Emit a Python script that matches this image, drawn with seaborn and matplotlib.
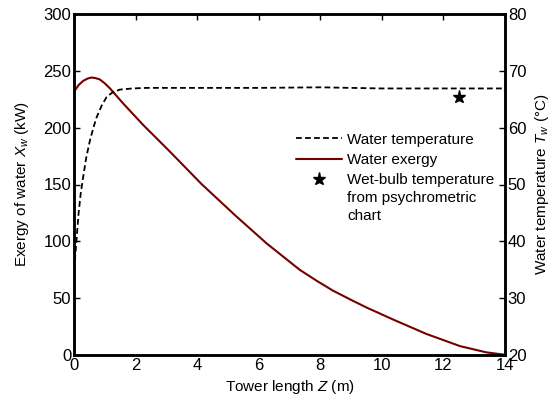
import numpy as np
import pandas as pd
import seaborn as sns
import matplotlib
matplotlib.use("Agg")
import matplotlib.pyplot as plt

# Daten
z_exergy = [0, 0.15, 0.3, 0.45, 0.57, 0.7, 0.84, 1.0, 1.17, 1.6, 2.25, 3.12,
            4.15, 5.25, 6.26, 7.34, 7.9, 8.42, 9.0, 9.5, 10.4, 11.45, 12.54,
            13.4, 14.0]
exergy = [231.6, 237.5, 241.2, 243.3, 244.1, 243.6, 242.4, 239.0, 234.5, 221.2,
          202.3, 178.8, 150.2, 122.5, 98.1, 74.8, 65.0, 56.5, 48.5, 41.8, 30.8,
          18.5, 7.8, 2.3, 0.2]

z_temp = [0, 0.03, 0.09, 0.15, 0.22, 0.3, 0.4, 0.52, 0.63, 0.74, 0.9, 1.06,
          1.25, 1.49, 1.9, 2.36, 4, 6, 8, 10, 12, 14]
temp = [35.0, 36.7, 40.8, 45.0, 48.5, 51.4, 54.8, 57.8, 60.0, 61.9, 63.9, 65.4,
        66.2, 66.7, 66.9, 67.0, 67.0, 67.0, 67.1, 66.9, 66.9, 66.9]

wetbulb_z = [12.5]
wetbulb_t = [65.4]

sns.set_style("white")
plt.rcParams['font.family'] = ['Liberation Sans', 'DejaVu Sans']
plt.rcParams['mathtext.fontset'] = 'custom'
plt.rcParams['mathtext.rm'] = 'Liberation Sans'
plt.rcParams['mathtext.it'] = 'Liberation Sans:italic'
plt.rcParams['text.color'] = 'black'
plt.rcParams['axes.labelcolor'] = 'black'
plt.rcParams['xtick.color'] = 'black'
plt.rcParams['ytick.color'] = 'black'

df_ex = pd.DataFrame({"z": z_exergy, "ex": exergy})
df_t = pd.DataFrame({"z": z_temp, "t": temp})

fig = plt.figure(figsize=(5.55, 4.01), dpi=100)
ax = fig.add_axes([74/555, 1-355/401, 431/555, 341/401])
ax2 = ax.twinx()

red = "#740000"
sns.lineplot(data=df_ex, x="z", y="ex", ax=ax, color=red, lw=1.5,
             label="Water exergy", legend=False)
sns.lineplot(data=df_t, x="z", y="t", ax=ax2, color="black", lw=1.3,
             linestyle=(0, (3.2, 1.8)), label="Water temperature", legend=False)
ax2.plot(wetbulb_z, wetbulb_t, ls="none", marker="*", ms=9.5, color="black",
         label="Wet-bulb temperature")

ax.set_xlim(0, 14)
ax.set_ylim(0, 300)
ax2.set_ylim(20, 80)
ax.set_xticks(range(0, 15, 2))
ax.set_yticks(range(0, 301, 50))
ax2.set_yticks(range(20, 81, 10))

fs = 11
tfs = 12
ax.set_xlabel("Tower length $Z$ (m)", fontsize=fs, labelpad=4)
ax.set_ylabel("Exergy of water $X_w$ (kW)", fontsize=fs, labelpad=9)
ax2.set_ylabel("Water temperature $T_w$ (°C)", fontsize=fs, labelpad=5)

for a in (ax, ax2):
    for s in a.spines.values():
        s.set_linewidth(1.8)
        s.set_color("black")
ax.tick_params(axis="both", direction="in", length=4, width=1, labelsize=tfs,
               top=True, pad=2)
ax.tick_params(axis="y", left=True, right=False)
ax2.tick_params(axis="y", direction="in", length=4, width=1, labelsize=tfs,
                right=True, pad=2)

h1, l1 = ax2.get_legend_handles_labels()
h0, l0 = ax.get_legend_handles_labels()
handles = [h1[0], h0[0], h1[1]]
labels = [l1[0], l0[0], l1[1]]
leg = ax.legend(handles, labels, loc="upper left", bbox_to_anchor=(0.501, 0.67),
                frameon=False, fontsize=fs, handlelength=3.0, handletextpad=0.35,
                labelspacing=0.42, borderaxespad=0)

# Rest des dritten Legendeneintrags unter den Text setzen
fig.canvas.draw()
bb = leg.get_texts()[2].get_window_extent().transformed(fig.transFigure.inverted())
fig.text(bb.x0, bb.y0 - 0.008, "from psychrometric\nchart", fontsize=fs,
         ha="left", va="top", linespacing=1.35)

fig.savefig("out.png", dpi=100)
